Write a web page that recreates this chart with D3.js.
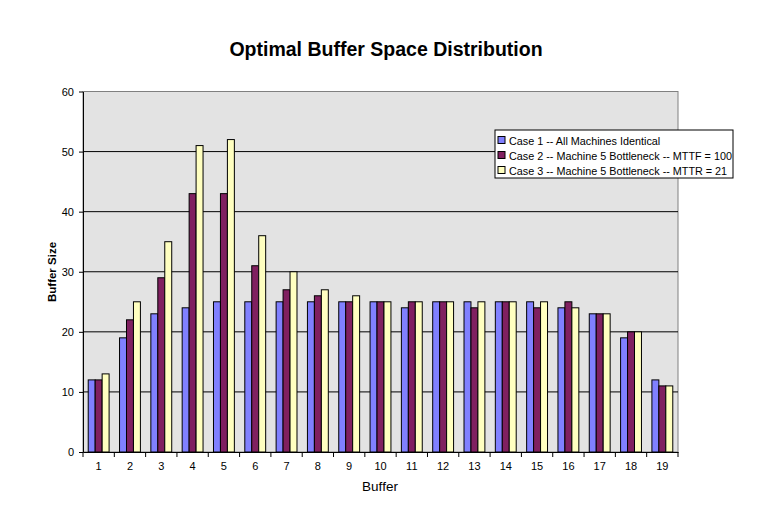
<!DOCTYPE html>
<html>
<head>
<meta charset="utf-8">
<script src="https://cdn.jsdelivr.net/npm/d3@7"></script>
<style>
  body { margin: 0; background: #fff; }
  text { font-family: "Liberation Sans", Arial, sans-serif; }
</style>
</head>
<body>
<div id="chart"></div>
<script>
// data
const buffers = d3.range(1, 20).map(String)
const case1 = [12, 19, 23, 24, 25, 25, 25, 25, 25, 25, 24, 25, 25, 25, 25, 24, 23, 19, 12]
const case2 = [12, 22, 29, 43, 43, 31, 27, 26, 25, 25, 25, 25, 24, 25, 24, 25, 23, 20, 11]
const case3 = [13, 25, 35, 51, 52, 36, 30, 27, 26, 25, 25, 25, 25, 25, 25, 24, 23, 20, 11]
const seriesNames = [
    "Case 1 -- All Machines Identical",
    "Case 2 -- Machine 5 Bottleneck -- MTTF = 100",
    "Case 3 -- Machine 5 Bottleneck -- MTTR = 21"
]
const yTicks = [0, 10, 20, 30, 40, 50, 60]

const colors = ["#8080FF", "#802060", "#FFFFC0"]
const series = [case1, case2, case3]

const W = 766, H = 507
const margin = { top: 91.5, right: 88, bottom: 55, left: 83 },
    width = W - margin.left - margin.right,
    height = H - margin.top - margin.bottom;

const svg = d3.select("#chart")
    .append("svg")
    .attr("width", W)
    .attr("height", H)

const g = svg.append("g")
    .attr("transform", `translate(${margin.left},${margin.top})`)

// plot background
g.append("rect")
    .attr("width", width)
    .attr("height", height)
    .attr("fill", "#E3E3E3")
    .attr("stroke", "#808080")
    .attr("stroke-width", 1)

const x = d3.scaleBand()
    .domain(buffers)
    .range([0, width])
    .paddingInner(1.5 / 4.5)
    .paddingOuter(0.75 / 4.5)

const xSub = d3.scaleBand()
    .domain([0, 1, 2])
    .range([0, x.bandwidth()])

const y = d3.scaleLinear()
    .domain([0, 60])
    .range([height, 0])

// gridlines
g.append("g")
    .selectAll("line")
    .data(yTicks.slice(1, -1))
    .enter().append("line")
    .attr("x1", 0)
    .attr("x2", width)
    .attr("y1", d => y(d))
    .attr("y2", d => y(d))
    .attr("stroke", "#000")
    .attr("stroke-width", 1)

// bars
g.append("g")
    .selectAll("g")
    .data(series)
    .enter().append("g")
    .attr("fill", (d, i) => colors[i])
    .each(function (vals, si) {
        d3.select(this).selectAll("rect")
            .data(vals)
            .enter().append("rect")
            .attr("x", (d, i) => x(buffers[i]) + xSub(si))
            .attr("y", d => y(d))
            .attr("width", xSub.bandwidth())
            .attr("height", d => height - y(d))
            .attr("stroke", "#000")
            .attr("stroke-width", 1)
    })

// y axis
const yAxis = g.append("g")
    .call(d3.axisLeft(y).tickValues(yTicks).tickSize(4).tickSizeOuter(0).tickPadding(5))
yAxis.selectAll("text").attr("font-size", 11).attr("fill", "#000")
yAxis.select(".domain").attr("stroke", "#000")

// x axis, ticks between categories
const xAxis = g.append("g")
    .attr("transform", `translate(0,${height})`)
    .call(d3.axisBottom(x).tickSize(0).tickPadding(10))
xAxis.selectAll("text").attr("font-size", 11).attr("fill", "#000")
xAxis.select(".domain").attr("stroke", "#000")
xAxis.append("g")
    .selectAll("line")
    .data(d3.range(buffers.length + 1))
    .enter().append("line")
    .attr("x1", i => i * width / buffers.length)
    .attr("x2", i => i * width / buffers.length)
    .attr("y1", 0)
    .attr("y2", 5)
    .attr("stroke", "#000")

// titles
svg.append("text")
    .attr("x", 386)
    .attr("y", 56)
    .attr("text-anchor", "middle")
    .attr("font-size", 19.5)
    .attr("font-weight", "bold")
    .text("Optimal Buffer Space Distribution")

svg.append("text")
    .attr("transform", "translate(56,272) rotate(-90)")
    .attr("text-anchor", "middle")
    .attr("font-size", 11.5)
    .attr("font-weight", "bold")
    .text("Buffer Size")

svg.append("text")
    .attr("x", 380)
    .attr("y", 491)
    .attr("text-anchor", "middle")
    .attr("font-size", 13.5)
    .text("Buffer")

// legend
const legend = svg.append("g")
    .attr("transform", "translate(495,130)")
legend.append("rect")
    .attr("width", 238)
    .attr("height", 48)
    .attr("fill", "#fff")
    .attr("stroke", "#000")
    .attr("stroke-width", 1)
const items = legend.selectAll("g.item")
    .data(seriesNames)
    .enter().append("g")
    .attr("class", "item")
    .attr("transform", (d, i) => `translate(3,${5 + i * 15})`)
items.append("rect")
    .attr("width", 7)
    .attr("height", 7)
    .attr("y", 1.5)
    .attr("fill", (d, i) => colors[i])
    .attr("stroke", "#000")
items.append("text")
    .attr("x", 11)
    .attr("y", 9.5)
    .attr("font-size", 10.8)
    .text(d => d)
</script>
</body>
</html>
